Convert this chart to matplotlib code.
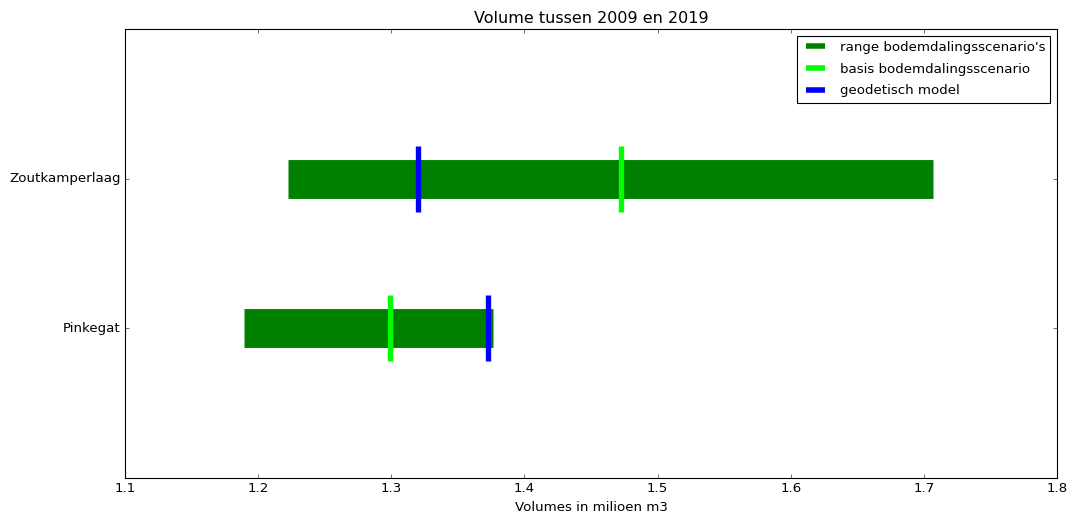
import matplotlib
matplotlib.use('Agg')
import matplotlib.pyplot as plt
from matplotlib.lines import Line2D

plt.style.use('classic')

# data
locaties = ['Pinkegat', 'Zoutkamperlaag']
range_min = [1.1894, 1.2224]
range_max = [1.3764, 1.7069]
basis = [1.2990, 1.4725]
geodetisch = [1.3726, 1.3201]

xticks = [1.1, 1.2, 1.3, 1.4, 1.5, 1.6, 1.7, 1.8]

fig = plt.figure(figsize=(1067 / 80, 515 / 80), dpi=80, facecolor='white')
ax = fig.add_axes([125 / 1067, 37 / 515, 932 / 1067, 449 / 515])

for i, naam in enumerate(locaties):
    y = i + 1
    ax.plot([range_min[i], range_max[i]], [y, y], color='green',
            linewidth=35, solid_capstyle='butt', zorder=1)
    ax.plot([basis[i], basis[i]], [y - 0.22, y + 0.22], color='lime',
            linewidth=4.8, solid_capstyle='butt', zorder=2)
    ax.plot([geodetisch[i], geodetisch[i]], [y - 0.22, y + 0.22], color='blue',
            linewidth=4.8, solid_capstyle='butt', zorder=3)

ax.set_xlim(1.1, 1.8)
ax.set_ylim(0, 3)
ax.set_xticks(xticks)
ax.set_xticklabels(['%.1f' % t for t in xticks])
ax.set_yticks(range(1, len(locaties) + 1))
ax.set_yticklabels(locaties)
ax.set_xlabel('Volumes in milioen m3')
ax.set_title('Volume tussen 2009 en 2019')

handles = [
    Line2D([], [], color='green', linewidth=5, solid_capstyle='butt'),
    Line2D([], [], color='lime', linewidth=5, solid_capstyle='butt'),
    Line2D([], [], color='blue', linewidth=5, solid_capstyle='butt'),
]
labels = ["range bodemdalingsscenario's", 'basis bodemdalingsscenario', 'geodetisch model']
ax.legend(handles, labels, loc='upper right', fontsize=12, handlelength=2.0,
          labelspacing=0.65)

fig.savefig('out.png', dpi=80, facecolor='white')
